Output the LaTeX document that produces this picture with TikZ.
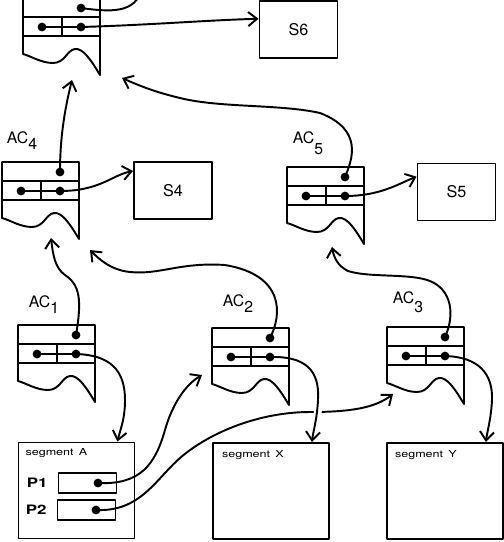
\documentclass[tikz,border=0pt]{standalone}
\usepackage{fontspec}
\setmainfont{TeX Gyre Heros}
\newfontfamily\segfont[FakeStretch=1.3]{TeX Gyre Heros}
\usetikzlibrary{arrows.meta}

\newcommand{\aclab}[2][0.4em]{AC\raisebox{-#1}{#2}}

\tikzset{
  acblock/.pic={
    % body with torn bottom edge
    \draw (0,0) -- (77,0) -- (77,77)
      .. controls (68,62) and (60,50) .. (52,51)
      .. controls (44,52) and (42,65) .. (30,65)
      .. controls (18,65) and (8,58) .. (0,56) -- cycle;
    \draw (0,19) -- (77,19) (0,38) -- (77,38) (39,19) -- (39,38);
    \coordinate (-t) at (58,10);
    \coordinate (-l) at (19,29);
    \coordinate (-r) at (58,29);
    \draw (-l) -- (-r);
    \fill (-t) circle[radius=2.5pt] (-l) circle[radius=2.5pt] (-r) circle[radius=2.5pt];
  }
}

\begin{document}
\begin{tikzpicture}[x=0.02cm,y=-0.02cm,line width=1.1pt,line join=round,
  >={Straight Barb[length=5pt,width=8pt]},
  sbox/.style={draw,minimum width=1.56cm,minimum height=1.14cm,font=\fontsize{9.2}{11}\selectfont},
  segbox/.style={draw,minimum width=2.32cm,minimum height=1.92cm},
  pbox/.style={draw,minimum width=1.16cm,minimum height=0.4cm},
  lab/.style={anchor=base west,inner sep=0pt,font=\fontsize{9}{10}\selectfont},
  seglab/.style={anchor=base west,inner sep=0pt,font=\segfont\fontsize{5.5}{6}\selectfont},
  plab/.style={anchor=east,inner sep=0pt,font=\segfont\bfseries\fontsize{7.4}{8}\selectfont}]
  \useasboundingbox (0,0) rectangle (504,542);

  % access control blocks
  \pic (ac6) at (23,-2) {acblock};
  \pic (ac4) at (2,162) {acblock};
  \pic (ac5) at (287,167) {acblock};
  \pic (ac1) at (18,325) {acblock};
  \pic (ac2) at (212,328) {acblock};
  \pic (ac3) at (387,327) {acblock};

  \node[lab] (lab4) at (6,143) {\aclab{4}};
  \node[lab] (lab5) at (292,143) {\aclab[0.75em]{5}};
  \node[lab] (lab1) at (28,307) {\aclab{1}};
  \node[lab] (lab2) at (222,306) {\aclab{2}};
  \node[lab] (lab3) at (392,303) {\aclab[0.6em]{3}};

  % segments
  \node[sbox] (s6) at (298.5,29.5) {S6};
  \node[sbox] (s4) at (173,190.5) {S4};
  \node[sbox] (s5) at (456.5,192) {S5};

  \node[segbox] (segA) at (76.5,490.5) {};
  \node[segbox] (segX) at (271,491) {};
  \node[segbox] (segY) at (445,491) {};
  \node[seglab] at ([shift={(7,14)}]segA.north west) {segment\, A};
  \node[seglab] at ([shift={(9,15)}]segX.north west) {segment\, X};
  \node[seglab] at ([shift={(8,15)}]segY.north west) {segment\, Y};

  \node[pbox] (p1box) at (87.5,483) {};
  \node[pbox] (p2box) at (86.5,510) {};
  \node[plab] at ([xshift=-0.18cm]p1box.west) {P1};
  \node[plab] at ([xshift=-0.18cm]p2box.west) {P2};
  \coordinate (p1) at (98,483);
  \coordinate (p2) at (96,510);
  \fill (p1) circle[radius=2.5pt] (p2) circle[radius=2.5pt];

  % free ends of the pointers
  \coordinate (out6) at (142,-12);
  \coordinate (in6a) at (72,80);
  \coordinate (in6b) at (122,78);
  \coordinate (in4a) at (51,238);
  \coordinate (in4b) at (90,250);
  \coordinate (in5a) at (332,247);
  \coordinate (in2) at (202,375);
  \coordinate (in3) at (393,394);

  % pointers up the chain
  \draw (ac6-t) .. controls (110,12) and (136,14) .. (out6);
  \draw[->] (ac4-t) .. controls (60,140) and (64,112) .. (in6a);
  \draw[->] (ac5-t) .. controls (352,160) and (364,130) .. (320,113)
    .. controls (280,104) and (220,108) .. (180,98)
    .. controls (155,92) and (140,86) .. (in6b);
  \draw[->] (ac1-t) .. controls (82,300) and (80,285) .. (65,275)
    .. controls (55,268) and (53,255) .. (in4a);
  \draw[->] (ac2-t) .. controls (282,315) and (285,275) .. (225,265)
    .. controls (180,262) and (160,275) .. (130,272)
    .. controls (110,270) and (98,258) .. (in4b);
  \draw[->] (ac3-t) .. controls (455,315) and (452,290) .. (430,281)
    .. controls (410,273) and (370,278) .. (348,271)
    .. controls (338,266) and (334,258) .. (in5a);

  % pointers to the segments
  \draw[->] (ac6-r) .. controls (150,25) and (210,20) .. (s6.165);
  \draw[->] (ac4-r) .. controls (100,191) and (112,175) .. (s4.154);
  \draw[->] (ac5-r) .. controls (380,196) and (398,184) .. (s5.159);
  \draw[->] (ac1-r) .. controls (110,355) and (125,370) .. (125,400)
    .. controls (125,420) and (120,430) .. ([xshift=-0.36cm]segA.north east);
  \draw[->] (ac3-r) .. controls (480,357) and (493,375) .. (492,400)
    .. controls (491,420) and (487,432) .. ([xshift=-0.36cm]segY.north east);

  % pointers out of segment A
  \draw[->] (p1) .. controls (140,485) and (155,465) .. (165,430)
    .. controls (172,405) and (185,385) .. (in2);
  \draw[->] (p2) .. controls (140,512) and (155,480) .. (180,458)
    .. controls (210,432) and (260,412) .. (310,412)
    .. controls (350,412) and (375,408) .. (in3);
  \draw[white,line width=4.5pt] (318.5,404) -- (317,420); % gap
  \draw[->] (ac2-r) .. controls (305,356) and (320,370) .. (318,400)
    .. controls (317,420) and (313,432) .. ([xshift=-0.36cm]segX.north east);
\end{tikzpicture}
\end{document}
